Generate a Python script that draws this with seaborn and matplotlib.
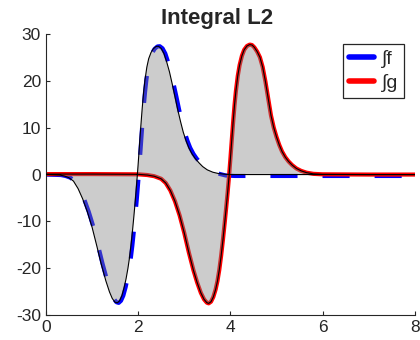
import numpy as np
import pandas as pd
import matplotlib
matplotlib.use('Agg')
import matplotlib.pyplot as plt
import seaborn as sns

# black outline of the filled area (follows f, ends at zero)
h_x = [0.0, 0.3, 0.4, 0.5, 0.6, 0.7, 0.8, 0.9, 1.0, 1.1,
       1.2, 1.3, 1.38, 1.44, 1.5, 1.55, 1.6, 1.65, 1.7, 1.74,
       1.78, 1.81, 1.845, 1.88, 1.91, 1.94, 1.97, 2.0, 2.03, 2.06,
       2.09, 2.12, 2.15, 2.19, 2.23, 2.28, 2.33, 2.39, 2.44, 2.5,
       2.56, 2.62, 2.68, 2.74, 2.8, 2.86, 2.92, 2.98, 3.04, 3.1,
       3.17, 3.24, 3.32, 3.4, 3.5, 3.62, 3.75, 3.9, 4.0, 8.0]
h_y = [0.0, -0.1, -0.3, -0.65, -1.4, -3.0, -5.2, -7.9, -11.1, -15.0,
       -19.0, -22.6, -25.0, -26.4, -27.2, -27.35, -26.9, -25.8, -24.0, -22.2,
       -20.0, -18.0, -15.2, -11.9, -8.8, -5.5, -1.9, 2.0, 6.2, 10.4,
       14.2, 17.5, 20.2, 22.9, 24.7, 26.0, 26.8, 27.3, 27.35, 26.9,
       25.8, 24.0, 21.9, 19.3, 16.6, 13.8, 11.3, 9.0, 7.2, 5.7,
       4.4, 3.4, 2.5, 1.7, 1.0, 0.5, 0.2, 0.05, 0.0, 0.0]

# integral of f (blue dashed)
f_x = [0.0, 0.33, 0.43, 0.53, 0.63, 0.73, 0.83, 0.93, 1.03, 1.13,
       1.23, 1.33, 1.41, 1.47, 1.53, 1.58, 1.63, 1.68, 1.73, 1.77,
       1.81, 1.84, 1.875, 1.91, 1.94, 1.97, 2.0, 2.03, 2.06, 2.09,
       2.12, 2.15, 2.18, 2.22, 2.26, 2.31, 2.36, 2.42, 2.47, 2.53,
       2.59, 2.65, 2.71, 2.77, 2.83, 2.89, 2.95, 3.01, 3.07, 3.13,
       3.2, 3.27, 3.35, 3.43, 3.53, 3.65, 3.78, 3.9, 4.1, 8.0]
f_y = [0.0, -0.1, -0.3, -0.65, -1.4, -3.0, -5.2, -7.9, -11.1, -15.0,
       -19.0, -22.6, -25.0, -26.4, -27.2, -27.35, -26.9, -25.8, -24.0, -22.2,
       -20.0, -18.0, -15.2, -11.9, -8.8, -5.5, -1.9, 2.0, 6.2, 10.4,
       14.2, 17.5, 20.2, 22.9, 24.7, 26.0, 26.8, 27.3, 27.35, 26.9,
       25.8, 24.0, 21.9, 19.3, 16.6, 13.8, 11.3, 9.0, 7.2, 5.7,
       4.4, 3.4, 2.5, 1.7, 1.0, 0.5, 0.1, -0.2, -0.3, -0.3]

# integral of g (red)
g_x = [0.0, 1.0, 2.0, 2.2, 2.35, 2.5, 2.6, 2.7, 2.8, 2.9,
       3.0, 3.1, 3.2, 3.28, 3.36, 3.43, 3.49, 3.53, 3.58, 3.63,
       3.68, 3.72, 3.76, 3.8, 3.84, 3.88, 3.91, 3.94, 3.97, 4.0,
       4.03, 4.06, 4.09, 4.12, 4.16, 4.2, 4.25, 4.3, 4.36, 4.42,
       4.47, 4.52, 4.58, 4.64, 4.7, 4.76, 4.82, 4.88, 4.94, 5.0,
       5.06, 5.12, 5.19, 5.26, 5.34, 5.43, 5.53, 5.65, 5.8, 6.0,
       7.0, 8.0]
g_y = [0.1, 0.1, 0.05, -0.1, -0.35, -0.9, -1.8, -3.4, -5.7, -8.7,
       -12.4, -16.6, -20.4, -23.0, -25.2, -26.6, -27.3, -27.45, -27.1, -26.1,
       -24.5, -22.7, -20.3, -17.3, -13.8, -10.0, -7.0, -3.9, -0.5, 3.3,
       7.3, 11.2, 14.8, 17.8, 21.0, 23.3, 25.3, 26.6, 27.4, 27.7,
       27.6, 27.1, 26.2, 25.0, 22.9, 19.8, 16.2, 12.6, 10.0, 8.0,
       6.3, 4.9, 3.7, 2.8, 2.0, 1.3, 0.8, 0.4, 0.15, 0.05,
       0.0, 0.0]

x_ticks = [0, 2, 4, 6, 8]
y_ticks = [-30, -20, -10, 0, 10, 20, 30]

sns.set_style('ticks')
plt.rcParams['font.family'] = ['Liberation Sans', 'DejaVu Sans']
plt.rcParams['axes.unicode_minus'] = False
plt.rcParams['xtick.direction'] = 'in'
plt.rcParams['ytick.direction'] = 'in'

dark = '#262626'
fig = plt.figure(figsize=(4.2, 3.4), dpi=100)
ax = fig.add_axes([0.109, 0.0726, 0.879, 0.828])

sns.lineplot(x=f_x, y=f_y, ax=ax, sort=False, color='#0000ff', lw=3,
             linestyle=(0, (6.5, 6)), dash_capstyle='butt', label='\u222bf')
sns.lineplot(x=g_x, y=g_y, ax=ax, sort=False, color='#ff0000', lw=3,
             solid_joinstyle='round', label='\u222bg')

# filled region between the outline curve and g
poly_x = list(h_x) + list(g_x[::-1])
poly_y = list(h_y) + list(g_y[::-1])
ax.fill(poly_x, poly_y, facecolor=(0.5, 0.5, 0.5, 0.4), edgecolor='black', lw=0.8, zorder=3)

ax.set_xlim(0, 8)
ax.set_ylim(-30, 30)
ax.set_xticks(x_ticks)
ax.set_yticks(y_ticks)
ax.tick_params(labelsize=12.5, colors=dark, length=3, width=0.8)
for s in ['left', 'bottom']:
    ax.spines[s].set_color(dark)
    ax.spines[s].set_linewidth(0.8)
sns.despine(ax=ax)

ax.set_title('Integral L2', fontsize=16, fontweight='bold', x=0.464, pad=7)

leg = ax.legend(loc='upper right', bbox_to_anchor=(0.97, 0.963), borderaxespad=0,
                fontsize=14, fancybox=False, framealpha=1, edgecolor=dark,
                handlelength=1.3, handletextpad=0.4, borderpad=0.3, labelspacing=0.3)
leg.get_frame().set_linewidth(0.9)
for line in leg.get_lines():
    line.set_linestyle('-')
    line.set_linewidth(4)

fig.savefig('out.png', dpi=100)
